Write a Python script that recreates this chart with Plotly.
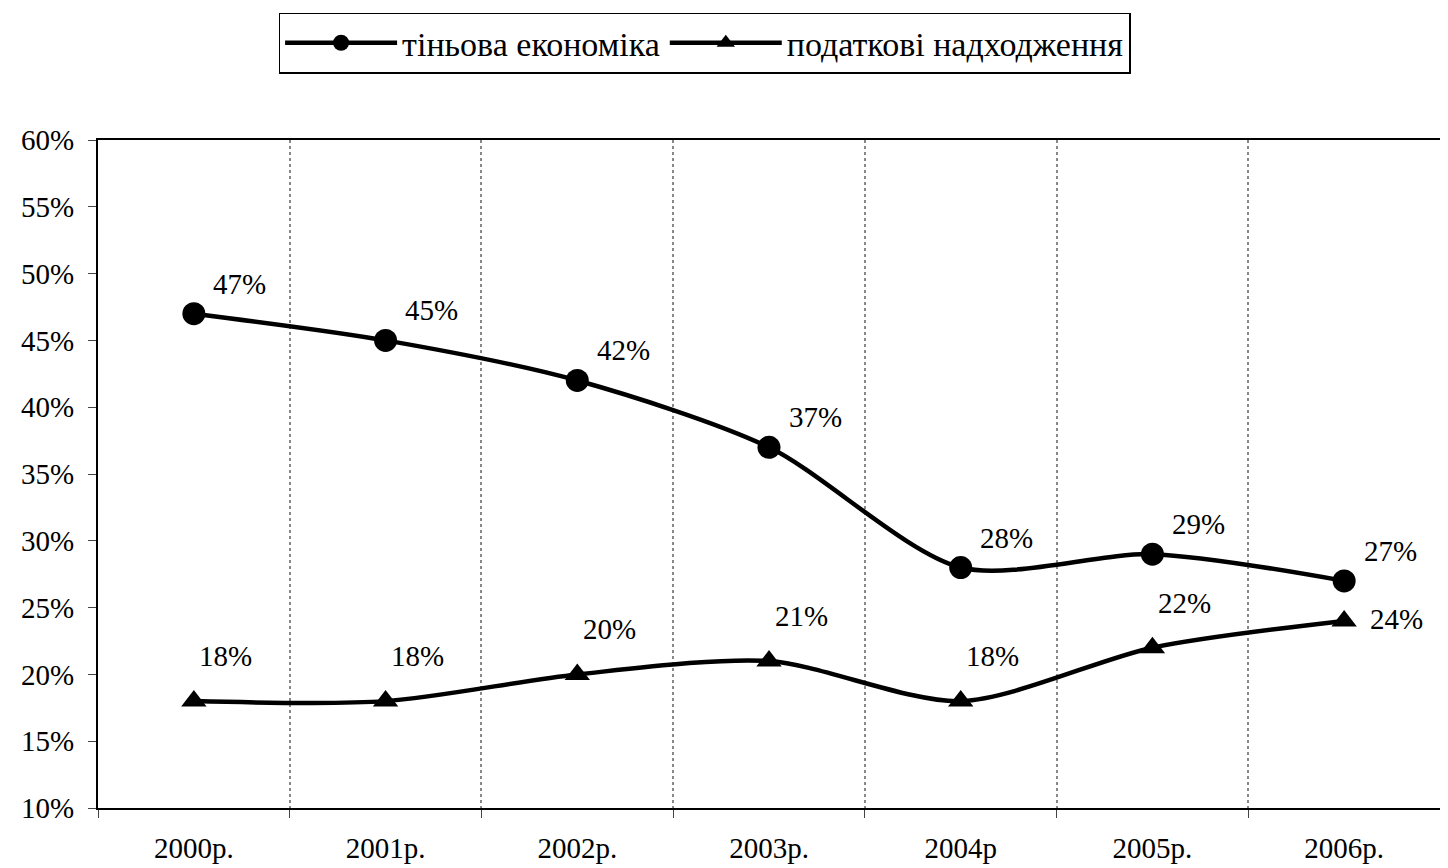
import plotly.graph_objects as go

years = ["2000р.", "2001р.", "2002р.", "2003р.", "2004р", "2005р.", "2006р."]
shadow_economy = [0.47, 0.45, 0.42, 0.37, 0.28, 0.29, 0.27]
tax_revenue = [0.18, 0.18, 0.20, 0.21, 0.18, 0.22, 0.24]
name_shadow = "тіньова економіка"
name_tax = "податкові надходження"

FONT = "Liberation Serif, Times New Roman, serif"
fig = go.Figure()
fig.add_trace(go.Scatter(
    x=years, y=shadow_economy, name=name_shadow, mode="lines+markers",
    line=dict(color="black", width=4.5, shape="spline", smoothing=0.8),
    marker=dict(symbol="circle", size=23, color="black"),
))
fig.add_trace(go.Scatter(
    x=years, y=tax_revenue, name=name_tax, mode="lines+markers",
    line=dict(color="black", width=4.5, shape="spline", smoothing=0.8),
    marker=dict(symbol="triangle-up", size=22, color="black"),
))

annotations = []
for i, (x, v) in enumerate(zip(years, shadow_economy)):
    annotations.append(dict(x=x, y=v, text=f"{round(v*100)}%", showarrow=False,
                            xshift=46, yshift=30, font=dict(family=FONT, size=29, color="black")))
for i, (x, v) in enumerate(zip(years, tax_revenue)):
    last = i == len(years) - 1
    annotations.append(dict(x=x, y=v, text=f"{round(v*100)}%", showarrow=False,
                            xshift=52 if last else 32, yshift=2 if last else 45,
                            font=dict(family=FONT, size=29, color="black")))

# page body adds an 8px offset, so the figure is 1440x860
fig.update_layout(
    width=1440, height=860,
    margin=dict(l=90, r=8, t=132, b=60, autoexpand=False),
    paper_bgcolor="white", plot_bgcolor="white",
    font=dict(family=FONT, size=29, color="black"),
    showlegend=True,
    legend=dict(orientation="h", x=0.452, xanchor="center", y=1.145, yanchor="middle",
                bordercolor="black", borderwidth=1.5, itemwidth=112,
                font=dict(family=FONT, size=34, color="black"), bgcolor="white"),
    annotations=annotations,
)
fig.update_xaxes(type="category", tickson="boundaries", ticks="outside", ticklen=8,
                 showline=True, linecolor="black", linewidth=2, mirror=True,
                 showgrid=True, gridcolor="#888888", griddash="dot", gridwidth=1.5,
                 tickfont=dict(family=FONT, size=29), ticklabelstandoff=13,
                 range=[-0.5, 6.5], automargin=False)
fig.update_yaxes(range=[0.10, 0.60], dtick=0.05, tick0=0.10, tickformat=".0%",
                 ticks="outside", ticklen=8, showline=True, linecolor="black", linewidth=2,
                 mirror=True, showgrid=False, zeroline=False, automargin=False,
                 tickfont=dict(family=FONT, size=29), ticklabelstandoff=8)

fig.write_html("out.html")
